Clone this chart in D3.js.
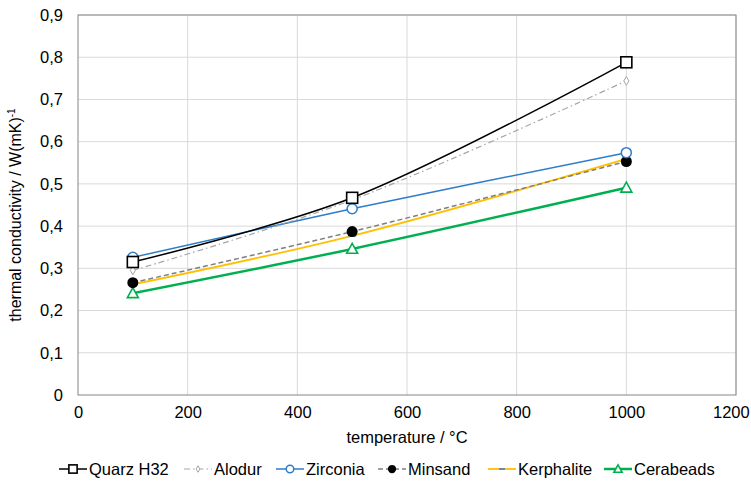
<!DOCTYPE html>
<html>
<head>
<meta charset="utf-8">
<script src="https://cdn.jsdelivr.net/npm/d3@7"></script>
<style>
  body { margin: 0; background: #fff; }
  text { font-family: "Liberation Sans", Arial, sans-serif; fill: #000; }
</style>
</head>
<body>
<div id="chart"></div>
<script>
// data
var temps = [100, 500, 1000];
var quarz = [0.315, 0.467, 0.788];
var alodur = [0.295, 0.462, 0.744];
var zirconia = [0.326, 0.441, 0.574];
var minsand = [0.266, 0.387, 0.553];
var kerphalite = [0.262, 0.377, 0.559];
var cerabeads = [0.241, 0.346, 0.491];
var xTicks = [0, 200, 400, 600, 800, 1000, 1200];
var yTicks = [0, 0.1, 0.2, 0.3, 0.4, 0.5, 0.6, 0.7, 0.8, 0.9];

var series = [
    { name: "Quarz H32", values: quarz, color: "#000", width: 1.5, dash: null, marker: "square", mColor: "#000" },
    { name: "Alodur", values: alodur, color: "#a6a6a6", width: 1.2, dash: "6,3,1.5,3", marker: "diamond", mColor: "#a6a6a6" },
    { name: "Zirconia", values: zirconia, color: "#2e7dc8", width: 1.5, dash: null, marker: "circle", mColor: "#2e7dc8" },
    { name: "Minsand", values: minsand, color: "#7f7f7f", width: 1.5, dash: "5,3", marker: "dot", mColor: "#000" },
    { name: "Kerphalite", values: kerphalite, color: "#ffc000", width: 1.8, dash: null, marker: "dash", mColor: "#4472c4" },
    { name: "Cerabeads", values: cerabeads, color: "#00b050", width: 2.5, dash: null, marker: "triangle", mColor: "#00b050" }
];

var W = 751, H = 481;
var margin = { left: 78, right: 15, top: 15, bottom: 86 };
var width = W - margin.left - margin.right;
var height = H - margin.top - margin.bottom;
var fs = "16.5px";

var svg = d3.select("#chart")
    .append("svg")
    .attr("width", W)
    .attr("height", H);

var g = svg.append("g")
    .attr("transform", "translate(" + margin.left + "," + margin.top + ")");

var x = d3.scaleLinear().domain([0, 1200]).range([0, width]);
var y = d3.scaleLinear().domain([0, 0.9]).range([height, 0]);

// gridlines
g.selectAll(".hgrid")
    .data(yTicks.slice(1))
    .enter().append("line")
    .attr("x1", 0).attr("x2", width)
    .attr("y1", function(d) { return y(d); })
    .attr("y2", function(d) { return y(d); })
    .attr("stroke", "#d9d9d9").attr("stroke-width", 1);

g.selectAll(".vgrid")
    .data(xTicks.slice(1))
    .enter().append("line")
    .attr("y1", 0).attr("y2", height)
    .attr("x1", function(d) { return x(d); })
    .attr("x2", function(d) { return x(d); })
    .attr("stroke", "#d9d9d9").attr("stroke-width", 1);

// frame
g.append("rect")
    .attr("x", 0).attr("y", 0)
    .attr("width", width).attr("height", height)
    .attr("fill", "none")
    .attr("stroke", "#868686").attr("stroke-width", 1);

// axes
var xAxis = g.append("g")
    .attr("transform", "translate(0," + height + ")")
    .call(d3.axisBottom(x).tickValues(xTicks).tickSize(0).tickPadding(11)
        .tickFormat(d3.format("d")));
var yAxis = g.append("g")
    .call(d3.axisLeft(y).tickValues(yTicks).tickSize(0).tickPadding(15)
        .tickFormat(function(d) { return d === 0 ? "0" : d3.format(".1f")(d).replace(".", ","); }));
[xAxis, yAxis].forEach(function(a) {
    a.select(".domain").remove();
    a.selectAll("text").attr("font-size", fs).attr("fill", "#000")
        .attr("font-family", "Liberation Sans, Arial, sans-serif");
});
// keep the last x label inside the window
xAxis.selectAll("text").filter(function(d) { return d === 1200; })
    .attr("text-anchor", "end").attr("dx", "0.8em");

// axis titles
g.append("text")
    .attr("x", 329)
    .attr("y", height + 48)
    .attr("text-anchor", "middle")
    .attr("font-size", fs)
    .text("temperature  / °C");

var yt = g.append("text")
    .attr("transform", "translate(-57," + (height / 2 + 10) + ") rotate(-90)")
    .attr("text-anchor", "middle")
    .attr("font-size", "16px");
yt.append("tspan").text("thermal conductivity / W(mK)");
yt.append("tspan").attr("dy", -6).attr("font-size", "10px").text("-1");

// markers
function drawMarker(sel, s, cx, cy, scale) {
    scale = scale || 1;
    if (s.marker === "square") {
        sel.append("rect").attr("x", cx - 5.5 * scale).attr("y", cy - 5.5 * scale)
            .attr("width", 11 * scale).attr("height", 11 * scale)
            .attr("fill", "#fff").attr("stroke", s.mColor).attr("stroke-width", 1.6);
    } else if (s.marker === "diamond") {
        sel.append("path").attr("d", d3.symbol(d3.symbolDiamond, 22 * scale * scale)())
            .attr("transform", "translate(" + cx + "," + cy + ")")
            .attr("fill", "#fff").attr("stroke", s.mColor).attr("stroke-width", 1);
    } else if (s.marker === "circle") {
        sel.append("circle").attr("cx", cx).attr("cy", cy).attr("r", 5 * scale)
            .attr("fill", "#fff").attr("stroke", s.mColor).attr("stroke-width", 1.5);
    } else if (s.marker === "dot") {
        sel.append("circle").attr("cx", cx).attr("cy", cy).attr("r", 5.5 * scale)
            .attr("fill", s.mColor);
    } else if (s.marker === "dash") {
        sel.append("line").attr("x1", cx - 4 * scale).attr("x2", cx + 4 * scale)
            .attr("y1", cy).attr("y2", cy)
            .attr("stroke", s.mColor).attr("stroke-width", 1.5);
    } else if (s.marker === "triangle") {
        var r = 5.5 * scale;
        sel.append("path")
            .attr("d", "M" + cx + "," + (cy - r) + "L" + (cx + r) + "," + (cy + r * 0.8) + "L" + (cx - r) + "," + (cy + r * 0.8) + "Z")
            .attr("fill", "#fff").attr("stroke", s.mColor).attr("stroke-width", 1.6);
    }
}

var line = d3.line()
    .x(function(d, i) { return x(temps[i]); })
    .y(function(d) { return y(d); })
    .curve(d3.curveCatmullRom.alpha(0.5));

// draw lines in reverse so Quarz ends on top
series.slice().reverse().forEach(function(s) {
    g.append("path")
        .datum(s.values)
        .attr("d", line)
        .attr("fill", "none")
        .attr("stroke", s.color)
        .attr("stroke-width", s.width)
        .attr("stroke-dasharray", s.dash);
    s.values.forEach(function(v, i) {
        drawMarker(g, s, x(temps[i]), y(v));
    });
});

// legend
var legendX = [59, 184, 276, 378, 488, 604];
var leg = svg.append("g").attr("transform", "translate(0,469)");
series.forEach(function(s, i) {
    var lx = legendX[i];
    leg.append("line")
        .attr("x1", lx).attr("x2", lx + 28)
        .attr("y1", 0).attr("y2", 0)
        .attr("stroke", s.color)
        .attr("stroke-width", s.width)
        .attr("stroke-dasharray", s.dash);
    drawMarker(leg, s, lx + 14, 0, 0.75);
    leg.append("text")
        .attr("x", lx + 30)
        .attr("y", 6)
        .attr("font-size", fs)
        .text(s.name);
});
</script>
</body>
</html>
